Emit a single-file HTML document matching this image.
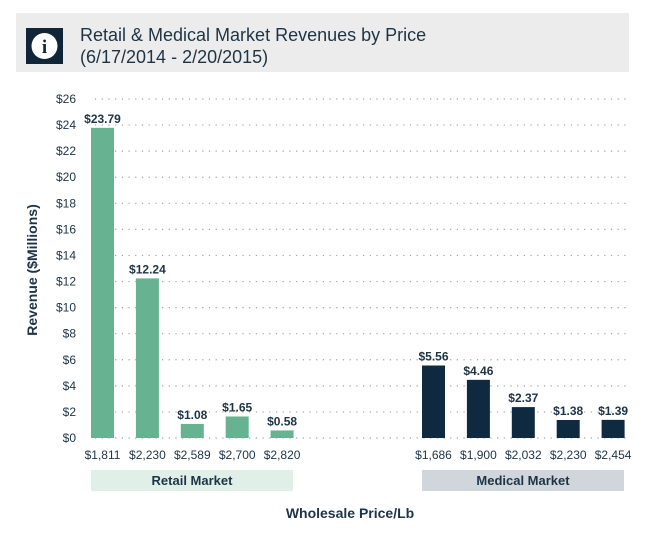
<!DOCTYPE html>
<html><head><meta charset="utf-8"><style>
body{margin:0;background:#fff;width:662px;height:532px;overflow:hidden;font-family:"Liberation Sans Narrow","Liberation Sans",sans-serif}
</style></head><body>
<svg width="662" height="532" xmlns="http://www.w3.org/2000/svg">
<rect x="16" y="13" width="613" height="59" fill="#ececec"/>
<rect x="26" y="28" width="37" height="36" fill="#0f2638"/>
<circle cx="44.5" cy="46" r="13" fill="#fff"/>
<text x="44.5" y="53" text-anchor="middle" font-family="Liberation Serif,serif" font-size="19" font-weight="bold" fill="#0f2638">i</text>
<text x="80" y="41" font-size="18" fill="#1e3445">Retail &amp; Medical Market Revenues by Price</text>
<text x="80" y="63" font-size="18" fill="#1e3445">(6/17/2014 - 2/20/2015)</text>
<g id="grid"></g><g id="bars"></g>
<rect x="91" y="470" width="202" height="21" fill="#e0f0e8"/>
<text x="192" y="485" text-anchor="middle" font-size="13" font-weight="bold" fill="#1e3445">Retail Market</text>
<rect x="422" y="470" width="202" height="21" fill="#d0d6dc"/>
<text x="523" y="485" text-anchor="middle" font-size="13" font-weight="bold" fill="#1e3445">Medical Market</text>
<text x="350" y="518" text-anchor="middle" font-size="14" font-weight="bold" fill="#1e3445" font-family="Liberation Sans,sans-serif">Wholesale Price/Lb</text>
<text transform="translate(37,270) rotate(-90)" text-anchor="middle" font-size="14" font-weight="bold" fill="#1e3445" font-family="Liberation Sans,sans-serif">Revenue ($Millions)</text>
</svg>
<script>
const retailCats=["$1,811","$2,230","$2,589","$2,700","$2,820"];
const retailVals=[23.79,12.24,1.08,1.65,0.58];
const medCats=["$1,686","$1,900","$2,032","$2,230","$2,454"];
const medVals=[5.56,4.46,2.37,1.38,1.39];
const yTicks=[0,2,4,6,8,10,12,14,16,18,20,22,24,26];
const NS="http://www.w3.org/2000/svg";
const y=v=>438-v*(339/26);
const grid=document.getElementById('grid'),bars=document.getElementById('bars');
function mk(tag,attrs,parent){const e=document.createElementNS(NS,tag);for(const k in attrs)e.setAttribute(k,attrs[k]);parent.appendChild(e);return e;}
yTicks.forEach(t=>{
 const l=mk('line',{x1:95,x2:628,y1:y(t),y2:y(t),stroke:'#9aa3aa','stroke-width':1.2,'stroke-dasharray':'1.2 5.5'},grid);
 
 
 const tx=mk('text',{x:76,y:y(t)+4,'text-anchor':'end','font-size':12,fill:'#1e3445'},grid);
 tx.textContent='$'+t;
 
 
});
function series(cats,vals,x0,color,name){
 cats.forEach((c,i)=>{
  const cx=x0+i*44.9,v=vals[i];
  const r=mk('rect',{x:cx-11.5,y:y(v),width:23,height:438-y(v),fill:color},bars);
  
  
  const vl=mk('text',{x:cx,y:y(v)-5,'text-anchor':'middle','font-size':12,'font-weight':'bold',fill:'#1e3445'},bars);
  vl.textContent='$'+v.toFixed(2);
  
  
  const cl=mk('text',{x:cx,y:459,'text-anchor':'middle','font-size':12,fill:'#1e3445'},bars);
  cl.textContent=c;
  
  
 });
}
series(retailCats,retailVals,102.5,'#67b391','retail');
series(medCats,medVals,433.5,'#0f2a40','medical');
</script>
</body></html>
